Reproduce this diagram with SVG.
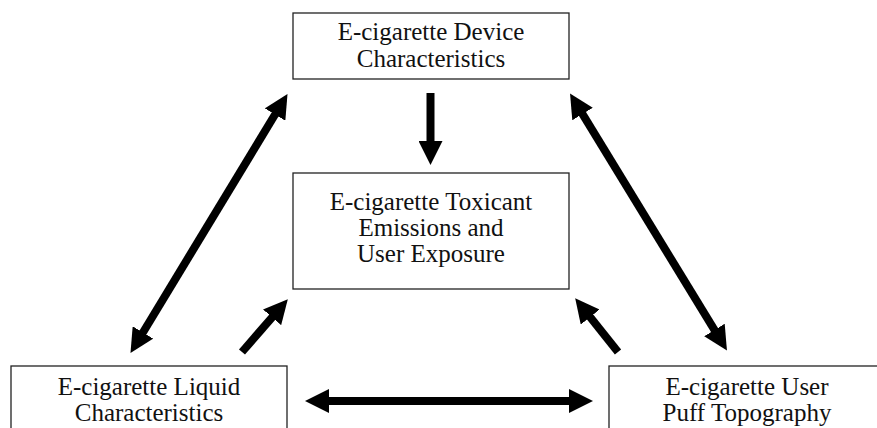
<svg xmlns="http://www.w3.org/2000/svg" width="877" height="428" viewBox="0 0 877 428">
<style>
.box{fill:#fff;stroke:#222;stroke-width:1.3}
.t{font-family:"Liberation Serif","Times New Roman",serif;font-size:25px;fill:#111;text-anchor:middle}
.c{stroke:#000;stroke-width:8;fill:none}
</style>
<defs>
<marker id="ah" markerUnits="userSpaceOnUse" markerWidth="24" markerHeight="24" refX="2" refY="12" orient="auto-start-reverse" viewBox="0 0 24 24">
<path d="M0,0 L24,12 L0,24 z" fill="#000"/>
</marker>
</defs>
<rect width="877" height="428" fill="#fff"/>
<g id="device">
<rect class="box" x="293" y="13" width="276" height="66"/>
<text class="t" x="431" y="40">E-cigarette Device</text>
<text class="t" x="431" y="67">Characteristics</text>
</g>
<g id="toxicant">
<rect class="box" x="293" y="173" width="276" height="116"/>
<text class="t" x="431" y="210">E-cigarette Toxicant</text>
<text class="t" x="431" y="236">Emissions and</text>
<text class="t" x="431" y="262">User Exposure</text>
</g>
<g id="liquid">
<rect class="box" x="11" y="366" width="276" height="80"/>
<text class="t" x="149" y="395">E-cigarette Liquid</text>
<text class="t" x="149" y="421">Characteristics</text>
</g>
<g id="puff">
<rect class="box" x="609" y="366" width="276" height="80"/>
<text class="t" x="747" y="395">E-cigarette User</text>
<text class="t" x="747" y="421">Puff Topography</text>
</g>
<g id="connectors">
<line class="c" x1="430.5" y1="93" x2="430.5" y2="143" marker-end="url(#ah)"/>
<line class="c" x1="141.9" y1="334.2" x2="276.1" y2="112.8" marker-start="url(#ah)" marker-end="url(#ah)"/>
<line class="c" x1="581.5" y1="112.3" x2="715.5" y2="331.7" marker-start="url(#ah)" marker-end="url(#ah)"/>
<line class="c" x1="242" y1="352" x2="273.4" y2="315.8" marker-end="url(#ah)"/>
<line class="c" x1="618" y1="352" x2="588.9" y2="315.5" marker-end="url(#ah)"/>
<line class="c" x1="327" y1="401" x2="571" y2="401" marker-start="url(#ah)" marker-end="url(#ah)"/>
</g>
</svg>
